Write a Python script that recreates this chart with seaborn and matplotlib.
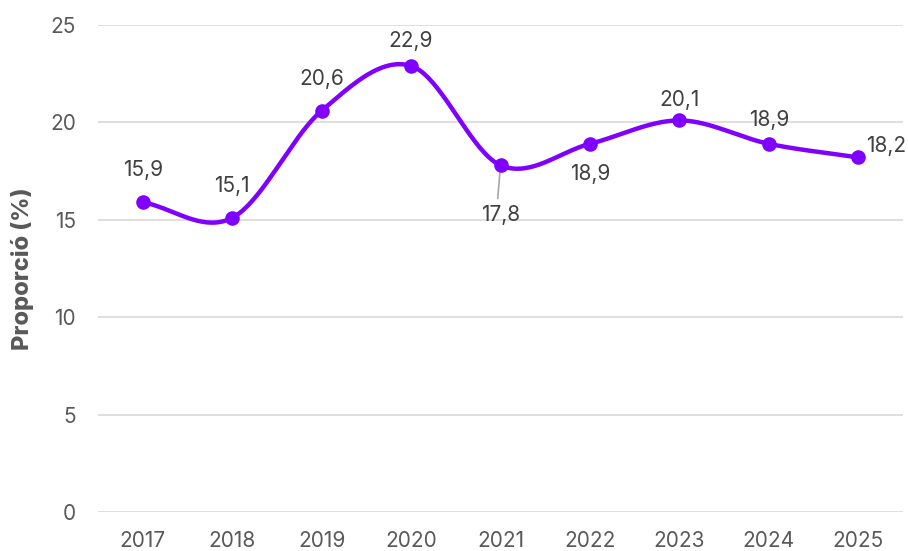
import numpy as np
import pandas as pd
import matplotlib
matplotlib.use("Agg")
import matplotlib.pyplot as plt
import seaborn as sns

years = ["2017", "2018", "2019", "2020", "2021", "2022", "2023", "2024", "2025"]
values = [15.9, 15.1, 20.6, 22.9, 17.8, 18.9, 20.1, 18.9, 18.2]
y_ticks = [0, 5, 10, 15, 20, 25]

LINE_COLOR = "#8000FF"
TEXT_COLOR = "#595959"
LABEL_COLOR = "#404040"

sns.set_theme(style="white")
plt.rcParams["font.family"] = ["Inter", "DejaVu Sans"]

df = pd.DataFrame({"year": years, "value": values})
df["pos"] = np.arange(len(df))

fig = plt.figure(figsize=(9.08, 5.51), dpi=100)
ax = fig.add_axes([98 / 908, 1 - 512 / 551, (903 - 98) / 908, (512 - 25) / 551])


def smooth(x, y, steps=40):
    """Catmull-Rom curve through the points (rendering of a smoothed line)."""
    x = np.asarray(x, float)
    y = np.asarray(y, float)
    px = np.concatenate([[2 * x[0] - x[1]], x, [2 * x[-1] - x[-2]]])
    py = np.concatenate([[2 * y[0] - y[1]], y, [2 * y[-1] - y[-2]]])
    xs, ys = [], []
    t = np.linspace(0, 1, steps)
    for i in range(1, len(px) - 2):
        p0, p1, p2, p3 = (np.array([px[j], py[j]]) for j in range(i - 1, i + 3))
        tt = t[:, None]
        pts = 0.5 * ((2 * p1) + (-p0 + p2) * tt + (2 * p0 - 5 * p1 + 4 * p2 - p3) * tt ** 2
                     + (-p0 + 3 * p1 - 3 * p2 + p3) * tt ** 3)
        xs.append(pts[:, 0])
        ys.append(pts[:, 1])
    return np.concatenate(xs), np.concatenate(ys)


cx, cy = smooth(df["pos"], df["value"])
curve = pd.DataFrame({"x": cx, "y": cy})
sns.lineplot(data=curve, x="x", y="y", ax=ax, color=LINE_COLOR, linewidth=3.2,
             sort=False, estimator=None)
sns.scatterplot(data=df, x="pos", y="value", ax=ax, color=LINE_COLOR, s=110,
                edgecolor=LINE_COLOR, linewidth=0, zorder=5)

ax.set_xlim(-0.5, len(years) - 0.5)
ax.set_ylim(0, 25)
ax.set_yticks(y_ticks)
ax.set_yticklabels([str(v) for v in y_ticks])
ax.set_xticks(df["pos"])
ax.set_xticklabels(years)
ax.grid(axis="y", color="#d9d9d9", linewidth=1.2)
ax.set_axisbelow(True)
for s in ax.spines.values():
    s.set_visible(False)
ax.tick_params(axis="both", length=0, labelsize=15, colors=TEXT_COLOR)
ax.tick_params(axis="y", pad=16)
ax.tick_params(axis="x", pad=14)
ax.set_xlabel("")
ax.set_ylabel("Proporció (%)", fontsize=17, fontweight="heavy", color=TEXT_COLOR)
ax.yaxis.set_label_coords(-0.079, 0.5)

# Data labels: (dx, dy) offsets in points
offsets = {
    "2017": (0, 23), "2018": (0, 23), "2019": (0, 23), "2020": (0, 18),
    "2021": (0, -36), "2022": (0, -22), "2023": (0, 15), "2024": (0, 17),
    "2025": (20, 8),
}
for _, r in df.iterrows():
    dx, dy = offsets[r["year"]]
    txt = f"{r['value']:.1f}".replace(".", ",")
    ax.annotate(txt, (r["pos"], r["value"]), xytext=(dx, dy), textcoords="offset points",
                ha="center", va="center", fontsize=15, color=LABEL_COLOR, zorder=6)

# Leader line for the 2021 label
i21 = years.index("2021")
ax.annotate("", (df["pos"][i21], values[i21]), xytext=(-2, -24), textcoords="offset points",
            arrowprops=dict(arrowstyle="-", color="#a6a6a6", linewidth=1.2, shrinkA=0, shrinkB=2))

fig.savefig("out.png", dpi=100)
